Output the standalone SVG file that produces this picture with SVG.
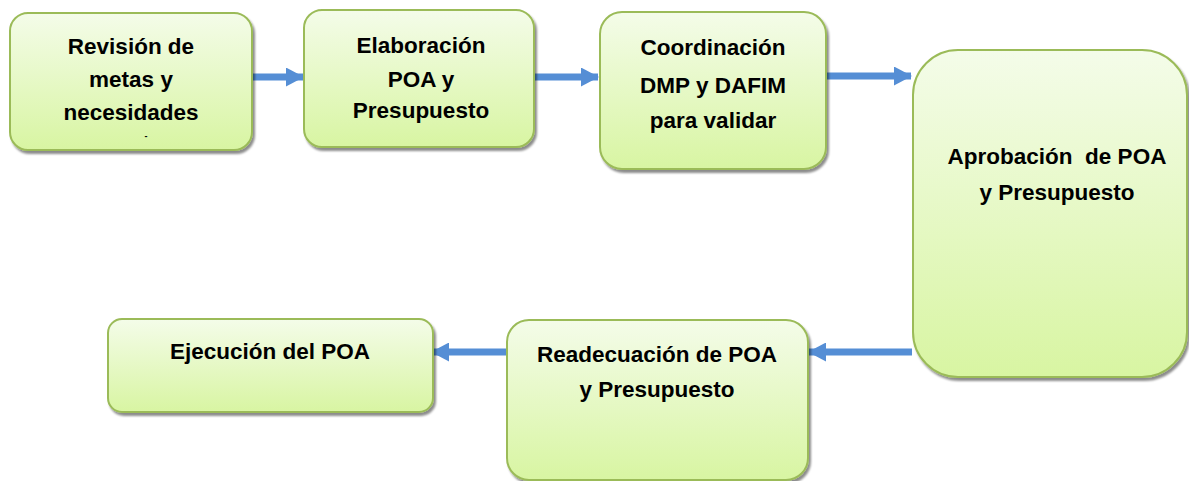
<svg xmlns="http://www.w3.org/2000/svg" width="1189" height="481" viewBox="0 0 1189 481">
<style>
  .box { fill: url(#g); stroke: #9bbb59; stroke-width: 2; filter: url(#sh); }
  .t { font-family: "Liberation Sans", Arial, sans-serif; font-weight: bold; font-size: 22.5px; fill: #000; text-anchor: middle; }
  .c { stroke: #558ed5; stroke-width: 7; fill: none; marker-end: url(#ah); }
</style>
<defs>
  <linearGradient id="g" x1="0" y1="0" x2="0" y2="1">
    <stop offset="0" stop-color="#f4fce9"/>
    <stop offset="1" stop-color="#d8f5a2"/>
  </linearGradient>
  <filter id="sh" x="-10%" y="-10%" width="125%" height="125%">
    <feDropShadow dx="2" dy="3" stdDeviation="1.2" flood-color="#000" flood-opacity="0.45"/>
  </filter>
  <marker id="ah" viewBox="0 0 18 19" markerWidth="18" markerHeight="19" refX="17" refY="9.5" orient="auto" markerUnits="userSpaceOnUse">
    <path d="M0,0 L18,9.5 L0,19 Z" fill="#558ed5"/>
  </marker>
</defs>
<rect width="1189" height="481" fill="#fff"/>

<g id="connectors">
  <line class="c" x1="252" y1="77" x2="303" y2="77"/>
  <line class="c" x1="535" y1="77" x2="598" y2="77"/>
  <line class="c" x1="827" y1="76" x2="911" y2="76"/>
  <line class="c" x1="912" y1="352" x2="809" y2="352"/>
  <line class="c" x1="507" y1="352" x2="432" y2="352"/>
</g>

<g id="n1">
  <rect class="box" x="10" y="13" width="242" height="137" rx="18"/>
  <text class="t" x="131" y="54">Revisión de</text>
  <text class="t" x="131" y="87">metas y</text>
  <text class="t" x="131" y="120">necesidades</text>
  <text class="t" x="146" y="139" style="font-size:9px">-</text>
</g>

<g id="n2">
  <rect class="box" x="304" y="10" width="230" height="137" rx="18"/>
  <text class="t" x="421" y="53">Elaboración</text>
  <text class="t" x="421" y="87">POA y</text>
  <text class="t" x="421" y="118">Presupuesto</text>
</g>

<g id="n3">
  <rect class="box" x="600" y="12" width="226" height="157" rx="22"/>
  <text class="t" x="713" y="55">Coordinación</text>
  <text class="t" x="713" y="93">DMP y DAFIM</text>
  <text class="t" x="713" y="128">para validar</text>
</g>

<g id="n4">
  <rect class="box" x="913" y="50" width="274" height="327" rx="45"/>
  <text class="t" x="1057" y="164" style="white-space:pre">Aprobación  de POA</text>
  <text class="t" x="1057" y="200">y Presupuesto</text>
</g>

<g id="n5">
  <rect class="box" x="507" y="320" width="301" height="160" rx="22"/>
  <text class="t" x="657" y="362">Readecuación de POA</text>
  <text class="t" x="657" y="397">y Presupuesto</text>
</g>

<g id="n6">
  <rect class="box" x="108" y="319" width="325" height="93" rx="14"/>
  <text class="t" x="270" y="359">Ejecución del POA</text>
</g>
</svg>
